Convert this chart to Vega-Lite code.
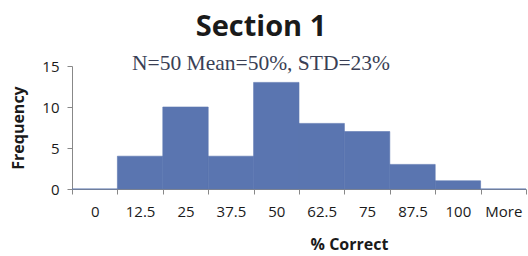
{
  "$schema": "https://vega.github.io/schema/vega-lite/v6.json",
  "autosize": {"type": "none"},
  "width": 454,
  "height": 123,
  "padding": {"left": 72, "top": 66, "right": 2, "bottom": 67},
  "background": "white",
  "title": {
    "text": "Section 1",
    "subtitle": "N=50 Mean=50%, STD=23%",
    "anchor": "middle",
    "frame": "group",
    "dx": -38,
    "offset": -15,
    "font": "Open Sans",
    "fontSize": 29,
    "fontWeight": "bold",
    "color": "#1a1a1a",
    "subtitleFont": "Liberation Serif",
    "subtitleFontSize": 21.5,
    "subtitleColor": "#3a3f55",
    "subtitlePadding": 11
  },
  "data": {
    "values": [
      {"bin": "0", "count": 0},
      {"bin": "12.5", "count": 4},
      {"bin": "25", "count": 10},
      {"bin": "37.5", "count": 4},
      {"bin": "50", "count": 13},
      {"bin": "62.5", "count": 8},
      {"bin": "75", "count": 7},
      {"bin": "87.5", "count": 3},
      {"bin": "100", "count": 1},
      {"bin": "More", "count": 0}
    ]
  },
  "mark": {"type": "bar", "color": "#5a75b0", "stroke": "#5a75b0", "strokeWidth": 0.6},
  "encoding": {
    "x": {
      "field": "bin",
      "type": "ordinal",
      "sort": null,
      "scale": {"paddingInner": 0, "paddingOuter": 0},
      "axis": {
        "title": "% Correct",
        "titleFont": "Open Sans",
        "titleFontSize": 16,
        "titleFontWeight": "bold",
        "titleColor": "#1a1a1a",
        "titleX": 277,
        "titlePadding": 17,
        "labelAngle": 0,
        "labelFont": "Open Sans",
        "labelFontSize": 15,
        "labelColor": "#1a1a1a",
        "labelPadding": 10,
        "tickBand": "extent",
        "tickSize": 5,
        "tickColor": "#888888",
        "domainColor": "#888888",
        "grid": false
      }
    },
    "y": {
      "field": "count",
      "type": "quantitative",
      "scale": {"domain": [0, 15], "nice": false},
      "axis": {
        "title": "Frequency",
        "titleFont": "Open Sans",
        "titleFontSize": 16,
        "titleFontWeight": "bold",
        "titleColor": "#1a1a1a",
        "titlePadding": 15,
        "values": [0, 5, 10, 15],
        "labelFont": "Open Sans",
        "labelFontSize": 15,
        "labelColor": "#1a1a1a",
        "labelPadding": 8,
        "tickSize": 5,
        "tickColor": "#888888",
        "domainColor": "#888888",
        "grid": false
      }
    }
  },
  "config": {"view": {"stroke": null}}
}
